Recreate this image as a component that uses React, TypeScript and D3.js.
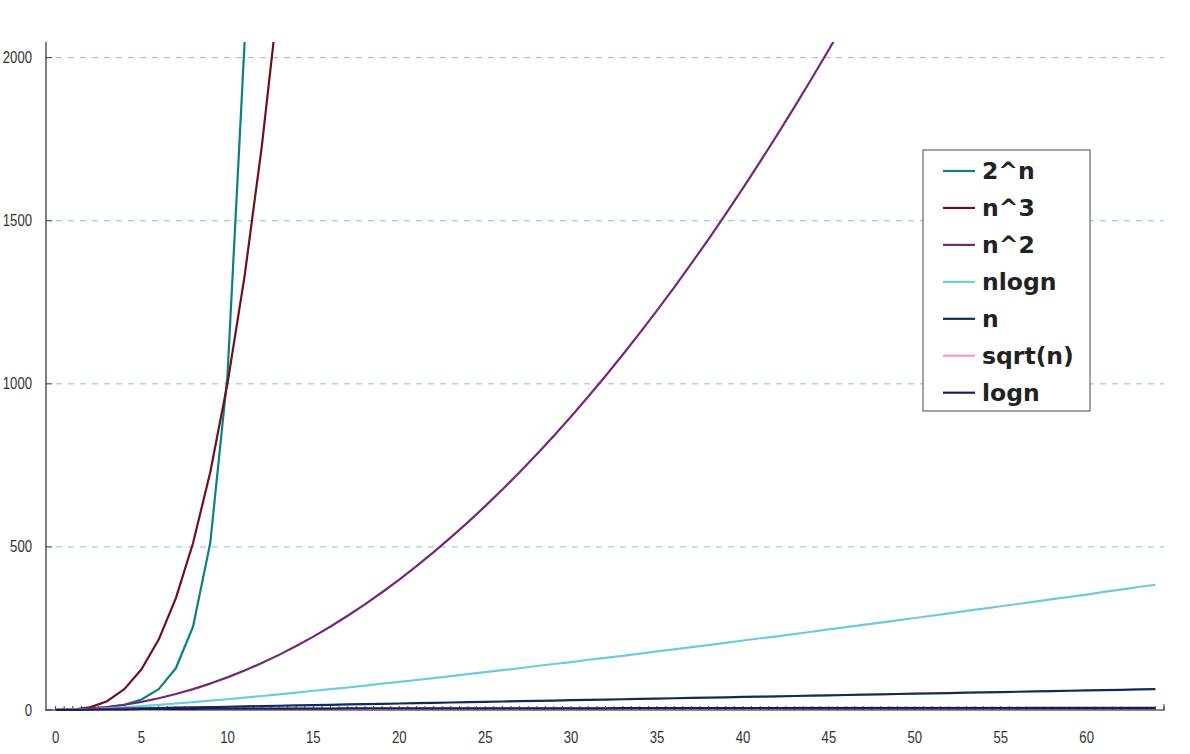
import React, { useEffect } from "react";
import * as d3 from "d3";

// n from 0 to 64
const ns = d3.range(0, 65);

const pow2 = [1, 2, 4, 8, 16, 32, 64, 128, 256, 512, 1024, 2048, 4096];
const cube = [0, 1, 8, 27, 64, 125, 216, 343, 512, 729, 1000, 1331, 1728, 2197];
const square = [
  0, 1, 4, 9, 16, 25, 36, 49, 64, 81, 100, 121, 144, 169, 196, 225, 256, 289, 324, 361,
  400, 441, 484, 529, 576, 625, 676, 729, 784, 841, 900, 961, 1024, 1089, 1156, 1225,
  1296, 1369, 1444, 1521, 1600, 1681, 1764, 1849, 1936, 2025, 2116,
];
const nlogn = [
  0, 0, 2, 5, 8, 12, 16, 20, 24, 29, 33, 38, 43, 48, 53, 59, 64, 69, 75, 81, 86, 92, 98,
  104, 110, 116, 122, 128, 135, 141, 147, 154, 160, 166, 173, 180, 186, 193, 199, 206,
  213, 220, 226, 233, 240, 247, 254, 261, 268, 275, 282, 289, 296, 304, 311, 318, 325,
  332, 340, 347, 354, 362, 369, 377, 384,
];
const linear = [
  0, 1, 2, 3, 4, 5, 6, 7, 8, 9, 10, 11, 12, 13, 14, 15, 16, 17, 18, 19, 20, 21, 22, 23,
  24, 25, 26, 27, 28, 29, 30, 31, 32, 33, 34, 35, 36, 37, 38, 39, 40, 41, 42, 43, 44, 45,
  46, 47, 48, 49, 50, 51, 52, 53, 54, 55, 56, 57, 58, 59, 60, 61, 62, 63, 64,
];
const sqrtn = [
  0, 1, 1, 2, 2, 2, 2, 3, 3, 3, 3, 3, 3, 4, 4, 4, 4, 4, 4, 4, 4, 5, 5, 5, 5, 5, 5, 5, 5,
  5, 5, 6, 6, 6, 6, 6, 6, 6, 6, 6, 6, 6, 6, 7, 7, 7, 7, 7, 7, 7, 7, 7, 7, 7, 7, 7, 7, 8,
  8, 8, 8, 8, 8, 8, 8,
];
const logn = [
  0, 0, 1, 2, 2, 3, 3, 3, 3, 4, 4, 4, 4, 4, 4, 4, 4, 5, 5, 5, 5, 5, 5, 5, 5, 5, 5, 5, 5,
  5, 5, 5, 5, 6, 6, 6, 6, 6, 6, 6, 6, 6, 6, 6, 6, 6, 6, 6, 6, 6, 6, 6, 6, 6, 6, 6, 6, 6,
  6, 6, 6, 6, 6, 6, 6,
];

const seriesNames = ["2^n", "n^3", "n^2", "nlogn", "n", "sqrt(n)", "logn"];
const seriesValues = [pow2, cube, square, nlogn, linear, sqrtn, logn];
const seriesColors = ["#0b8080", "#6e1015", "#74287c", "#6ecbda", "#0c2d55", "#f59cc8", "#1b1b5c"];

const yTicks = [0, 500, 1000, 1500, 2000];
const xLabels = [0, 5, 10, 15, 20, 25, 30, 35, 40, 45, 50, 55, 60];

const axisFont = "Liberation Sans, Arial, sans-serif";

// narrow looking axis label (the original uses a condensed face)
function AxisLabel({ x, y, anchor, text }: { x: number; y: number; anchor: string; text: string }) {
  return (
    <text
      transform={`translate(${x},${y}) scale(0.82,1)`}
      textAnchor={anchor}
      fontFamily={axisFont}
      fontSize={16}
      fill="#333"
    >
      {text}
    </text>
  );
}

function App() {
  useEffect(() => {
    document.body.style.margin = "0";
  }, []);

  const width = 1190;
  const height = 754;
  const margin = { top: 42, left: 47, bottom: 44, right: 26 };

  const x = d3
    .scaleBand<number>()
    .domain(ns)
    .range([margin.left, width - margin.right]);
  const bw = x.bandwidth();
  const cx = (n: number) => (x(n) as number) + bw / 2;

  const y = d3
    .scaleLinear()
    .domain([0, 2048])
    .range([height - margin.bottom, margin.top]);

  const line = d3
    .line<number>()
    .x((_, i) => cx(i))
    .y((d) => y(d));

  const y0 = y(0);
  const xEnd = width - margin.right;

  // small ticks at band centres and band edges
  const minorTicks: number[] = [];
  ns.forEach((n) => {
    minorTicks.push(cx(n));
    minorTicks.push((x(n) as number) + bw);
  });

  const legend = { x: 923, y: 150, w: 167, h: 261, row: 36.95 };

  return (
    <svg width={width} height={height} style={{ display: "block", background: "#fff" }}>
      <defs>
        <clipPath id="plot">
          <rect x={margin.left} y={margin.top} width={xEnd - margin.left} height={y0 - margin.top + 2} />
        </clipPath>
      </defs>

      {/* grid */}
      {yTicks.filter((t) => t > 0).map((t) => (
        <line key={t} x1={56} x2={xEnd} y1={y(t)} y2={y(t)} stroke="#8cc4c4" strokeDasharray="6,6" strokeWidth={1} />
      ))}

      {/* x axis */}
      <line x1={margin.left} x2={xEnd} y1={y0} y2={y0} stroke="#888" strokeWidth={2} />
      {minorTicks.map((t, i) => (
        <line key={i} x1={t} x2={t} y1={y0} y2={y0 - 4} stroke="#444" strokeWidth={1} />
      ))}
      <line x1={xEnd} x2={xEnd} y1={y0 + 1} y2={y0 - 6} stroke="#444" strokeWidth={1} />
      {xLabels.map((n) => (
        <AxisLabel key={n} x={cx(n)} y={y0 + 33} anchor="middle" text={String(n)} />
      ))}

      {/* y axis */}
      <line x1={margin.left - 1} x2={margin.left - 1} y1={margin.top} y2={y0 + 1} stroke="#555" strokeWidth={1.5} />
      {yTicks.map((t) => (
        <g key={t}>
          <line x1={margin.left - 1} x2={margin.left + 5} y1={y(t)} y2={y(t)} stroke="#333" strokeWidth={1} />
          <AxisLabel x={32} y={y(t) + 5.5} anchor="end" text={String(t)} />
        </g>
      ))}

      {/* series */}
      <g clipPath="url(#plot)">
        {seriesValues.map((vals, i) => (
          <path key={seriesNames[i]} d={line(vals) || ""} fill="none" stroke={seriesColors[i]} strokeWidth={2.2} strokeLinejoin="round" />
        ))}
      </g>

      {/* legend */}
      <rect x={legend.x} y={legend.y} width={legend.w} height={legend.h} fill="#fff" stroke="#666" strokeWidth={1.2} />
      {seriesNames.map((name, i) => {
        const ly = legend.y + 21 + i * legend.row;
        return (
          <g key={name}>
            <line x1={943} x2={975} y1={ly} y2={ly} stroke={seriesColors[i]} strokeWidth={2.2} />
            <text x={982} y={ly + 8} fontFamily="DejaVu Sans, Verdana, sans-serif" fontWeight="bold" fontSize={23.5} fill="#222">
              {name}
            </text>
          </g>
        );
      })}
    </svg>
  );
}

export default App;
